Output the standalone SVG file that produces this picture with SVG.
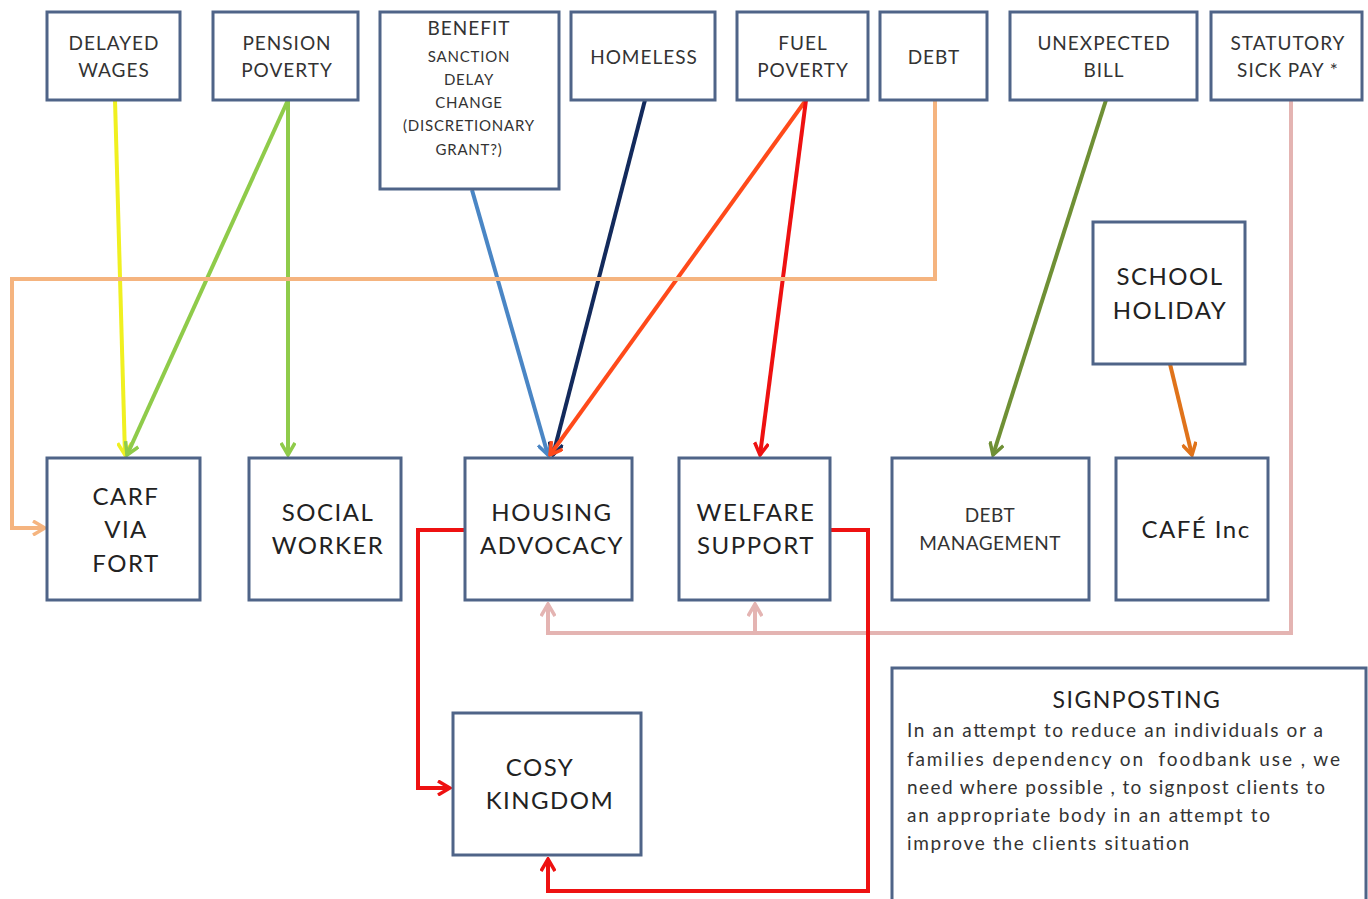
<svg xmlns="http://www.w3.org/2000/svg" width="1368" height="899" viewBox="0 0 1368 899">
<style>
.box{fill:#fff;stroke:#4f6488;stroke-width:3}
.t{font-family:Lato,"Open Sans","Liberation Sans",sans-serif;fill:#333;text-anchor:middle}
.s{font-size:19px;letter-spacing:1px}
.b{font-size:24px;letter-spacing:1.5px;fill:#222}
.sm{font-size:15px;letter-spacing:0.8px}
.c{fill:none;stroke-width:4}
.p{font-family:Lato,"Open Sans","Liberation Sans",sans-serif;font-size:19px;fill:#333}
</style>
<defs>
<marker id="m-yel" viewBox="0 0 16 16" refX="14" refY="8" markerWidth="16" markerHeight="16" markerUnits="userSpaceOnUse" orient="auto"><path d="M2,1 L14,8 L2,15" fill="none" stroke="#f0f020" stroke-width="3.5"/></marker>
<marker id="m-grn" viewBox="0 0 16 16" refX="14" refY="8" markerWidth="16" markerHeight="16" markerUnits="userSpaceOnUse" orient="auto"><path d="M2,1 L14,8 L2,15" fill="none" stroke="#8fcb4a" stroke-width="3.5"/></marker>
<marker id="m-blu" viewBox="0 0 16 16" refX="14" refY="8" markerWidth="16" markerHeight="16" markerUnits="userSpaceOnUse" orient="auto"><path d="M2,1 L14,8 L2,15" fill="none" stroke="#4a86c5" stroke-width="3.5"/></marker>
<marker id="m-nav" viewBox="0 0 16 16" refX="14" refY="8" markerWidth="16" markerHeight="16" markerUnits="userSpaceOnUse" orient="auto"><path d="M2,1 L14,8 L2,15" fill="none" stroke="#132a5c" stroke-width="3.5"/></marker>
<marker id="m-ora" viewBox="0 0 16 16" refX="14" refY="8" markerWidth="16" markerHeight="16" markerUnits="userSpaceOnUse" orient="auto"><path d="M2,1 L14,8 L2,15" fill="none" stroke="#ff4a1a" stroke-width="3.5"/></marker>
<marker id="m-red" viewBox="0 0 16 16" refX="14" refY="8" markerWidth="16" markerHeight="16" markerUnits="userSpaceOnUse" orient="auto"><path d="M2,1 L14,8 L2,15" fill="none" stroke="#ee1111" stroke-width="3.5"/></marker>
<marker id="m-pch" viewBox="0 0 16 16" refX="14" refY="8" markerWidth="16" markerHeight="16" markerUnits="userSpaceOnUse" orient="auto"><path d="M2,1 L14,8 L2,15" fill="none" stroke="#f5b47f" stroke-width="3.5"/></marker>
<marker id="m-olv" viewBox="0 0 16 16" refX="14" refY="8" markerWidth="16" markerHeight="16" markerUnits="userSpaceOnUse" orient="auto"><path d="M2,1 L14,8 L2,15" fill="none" stroke="#6f9035" stroke-width="3.5"/></marker>
<marker id="m-org" viewBox="0 0 16 16" refX="14" refY="8" markerWidth="16" markerHeight="16" markerUnits="userSpaceOnUse" orient="auto"><path d="M2,1 L14,8 L2,15" fill="none" stroke="#e0731a" stroke-width="3.5"/></marker>
<marker id="m-pnk" viewBox="0 0 16 16" refX="14" refY="8" markerWidth="16" markerHeight="16" markerUnits="userSpaceOnUse" orient="auto"><path d="M2,1 L14,8 L2,15" fill="none" stroke="#e4b4b2" stroke-width="3.5"/></marker>
</defs>
<rect width="1368" height="899" fill="#fff"/>

<g id="connectors">
<path class="c" d="M115,100 L125,455" stroke="#f0f020" marker-end="url(#m-yel)"/>
<path class="c" d="M288,100 L127,455" stroke="#8fcb4a" marker-end="url(#m-grn)"/>
<path class="c" d="M288,100 L288,455" stroke="#8fcb4a" marker-end="url(#m-grn)"/>
<path class="c" d="M472,190 L548,455" stroke="#4a86c5" marker-end="url(#m-blu)"/>
<path class="c" d="M645,100 L553,455" stroke="#132a5c" marker-end="url(#m-nav)"/>
<path class="c" d="M806,100 L550,455" stroke="#ff4a1a" marker-end="url(#m-ora)"/>
<path class="c" d="M806,100 L760,455" stroke="#ee1111" marker-end="url(#m-red)"/>
<path class="c" d="M935,100 L935,279 L12,279 L12,528 L45,528" stroke="#f5b47f" stroke-width="3" marker-end="url(#m-pch)"/>
<path class="c" d="M1106,100 L993,455" stroke="#6f9035" marker-end="url(#m-olv)"/>
<path class="c" d="M1170,364 L1192,455" stroke="#e0731a" marker-end="url(#m-org)"/>
<path class="c" d="M1291,100 L1291,633 L548,633 L548,604" stroke="#e4b4b2" stroke-width="3.5" marker-end="url(#m-pnk)"/>
<path class="c" d="M755,633 L755,604" stroke="#e4b4b2" stroke-width="3.5" marker-end="url(#m-pnk)"/>
<path class="c" d="M465,530 L418,530 L418,788 L450,788" stroke="#ee1111" marker-end="url(#m-red)"/>
<path class="c" d="M830,530 L868,530 L868,891 L548,891 L548,859" stroke="#ee1111" marker-end="url(#m-red)"/>
</g>

<g id="delayed-wages"><rect class="box" x="47" y="12" width="133" height="88"/><text class="t s" x="114" y="50">DELAYED</text><text class="t s" x="114" y="77">WAGES</text></g>
<g id="pension-poverty"><rect class="box" x="213" y="12" width="145" height="88"/><text class="t s" x="287" y="50">PENSION</text><text class="t s" x="287" y="77">POVERTY</text></g>
<g id="benefit"><rect class="box" x="380" y="12" width="179" height="177"/>
<text class="t" x="469" y="35" style="font-size:19px;letter-spacing:1px">BENEFIT</text>
<text class="t sm" x="469" y="62">SANCTION</text>
<text class="t sm" x="469" y="85">DELAY</text>
<text class="t sm" x="469" y="108">CHANGE</text>
<text class="t sm" x="469" y="131">(DISCRETIONARY</text>
<text class="t sm" x="469" y="155">GRANT?)</text></g>
<g id="homeless"><rect class="box" x="571" y="12" width="144" height="88"/><text class="t s" x="644" y="64">HOMELESS</text></g>
<g id="fuel-poverty"><rect class="box" x="737" y="12" width="131" height="88"/><text class="t s" x="803" y="50">FUEL</text><text class="t s" x="803" y="77">POVERTY</text></g>
<g id="debt"><rect class="box" x="880" y="12" width="107" height="88"/><text class="t s" x="934" y="64">DEBT</text></g>
<g id="unexpected-bill"><rect class="box" x="1010" y="12" width="187" height="88"/><text class="t s" x="1104" y="50">UNEXPECTED</text><text class="t s" x="1104" y="77">BILL</text></g>
<g id="statutory-sick-pay"><rect class="box" x="1211" y="12" width="151" height="88"/><text class="t s" x="1288" y="50">STATUTORY</text><text class="t s" x="1288" y="77">SICK PAY *</text></g>

<g id="school-holiday"><rect class="box" x="1093" y="222" width="152" height="142"/><text class="t b" x="1170" y="285">SCHOOL</text><text class="t b" x="1170" y="319">HOLIDAY</text></g>

<g id="carf-via-fort"><rect class="box" x="47" y="458" width="153" height="142"/><text class="t b" x="126" y="505">CARF</text><text class="t b" x="126" y="538">VIA</text><text class="t b" x="126" y="572">FORT</text></g>
<g id="social-worker"><rect class="box" x="249" y="458" width="152" height="142"/><text class="t b" x="328" y="521">SOCIAL</text><text class="t b" x="328" y="554">WORKER</text></g>
<g id="housing-advocacy"><rect class="box" x="465" y="458" width="167" height="142"/><text class="t b" x="552" y="521">HOUSING</text><text class="t b" x="552" y="554">ADVOCACY</text></g>
<g id="welfare-support"><rect class="box" x="679" y="458" width="151" height="142"/><text class="t b" x="756" y="521">WELFARE</text><text class="t b" x="756" y="554">SUPPORT</text></g>
<g id="debt-management"><rect class="box" x="892" y="458" width="197" height="142"/><text class="t" x="990" y="522" style="font-size:19px;letter-spacing:0.5px">DEBT</text><text class="t" x="990" y="550" style="font-size:19px;letter-spacing:0.5px">MANAGEMENT</text></g>
<g id="cafe-inc"><rect class="box" x="1116" y="458" width="152" height="142"/><text class="t b" x="1196" y="538">CAFÉ Inc</text></g>

<g id="cosy-kingdom"><rect class="box" x="453" y="713" width="188" height="142"/><text class="t b" x="540" y="776">COSY</text><text class="t b" x="550" y="809">KINGDOM</text></g>

<g id="signposting"><rect class="box" x="892" y="668" width="474" height="240"/>
<text class="t" x="1137" y="708" style="font-size:23px;letter-spacing:1.5px;fill:#222">SIGNPOSTING</text>
<text class="p" x="907" y="737" textLength="416" lengthAdjust="spacing">In an attempt to reduce an individuals or a</text>
<text class="p" x="907" y="766" textLength="433" lengthAdjust="spacing" xml:space="preserve">families dependency on  foodbank use , we</text>
<text class="p" x="907" y="794" textLength="418" lengthAdjust="spacing">need where possible , to signpost clients to</text>
<text class="p" x="907" y="822" textLength="363" lengthAdjust="spacing">an appropriate body in an attempt to</text>
<text class="p" x="907" y="850" textLength="282" lengthAdjust="spacing">improve the clients situation</text>
</g>
</svg>
